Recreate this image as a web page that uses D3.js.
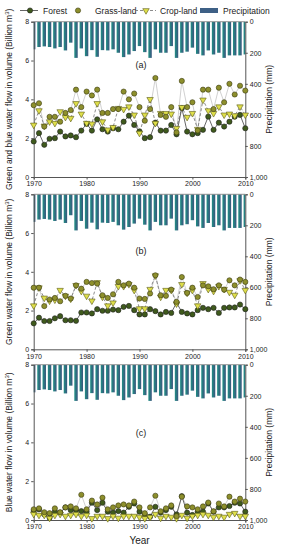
<!DOCTYPE html>
<html>
<head>
<meta charset="utf-8">
<script src="https://cdn.jsdelivr.net/npm/d3@7"></script>
<style>
  body { margin: 0; background: #fff; }
  svg { font-family: "Liberation Sans", Arial, sans-serif; }
  .axis path, .axis line { stroke: #555; }
  .axis text { fill: #222; font-size: 7px; }
</style>
</head>
<body>
<svg id="chart" width="284" height="550"></svg>
<script>
// water flow by land use, three panels, precipitation hanging from the top

var years = [1970, 1971, 1972, 1973, 1974, 1975, 1976, 1977, 1978, 1979,
             1980, 1981, 1982, 1983, 1984, 1985, 1986, 1987, 1988, 1989,
             1990, 1991, 1992, 1993, 1994, 1995, 1996, 1997, 1998, 1999,
             2000, 2001, 2002, 2003, 2004, 2005, 2006, 2007, 2008, 2009, 2010];
var yearTicks = [1970, 1980, 1990, 2000, 2010];
var flowTicks = [0, 2, 4, 6, 8];
var precipTicks = [0, 200, 400, 600, 800, 1000];

var precipitation = [178, 163, 159, 163, 172, 163, 185, 135, 233, 172,
                     222, 183, 226, 183, 185, 178, 200, 228, 211, 189,
                     157, 196, 233, 178, 200, 200, 157, 233, 200, 193,
                     167, 207, 217, 185, 211, 200, 233, 217, 217, 217, 211];

// (a) green + blue
var forestA = [1.83, 2.26, 1.66, 1.97, 2.0, 2.34, 2.09, 2.14, 2.05, 2.39,
               2.74, 2.39, 2.97, 2.46, 2.34, 2.51, 2.46, 2.85, 3.16, 2.68,
               2.35, 2.0, 2.05, 2.8, 2.39, 2.39, 2.68, 2.2, 3.55, 2.34,
               2.2, 2.26, 2.43, 3.11, 2.43, 2.8, 2.6, 2.85, 3.11, 3.2, 2.51];
var grassA = [3.7, 3.8, 2.6, 3.1, 3.1, 2.85, 3.3, 3.45, 4.5, 3.6,
              4.4, 4.2, 4.5, 3.3, 3.3, 3.5, 3.5, 4.4, 4.0, 4.3,
              3.6, 2.9, 3.5, 5.1, 3.2, 3.1, 3.6, 2.3, 4.95, 3.6,
              3.85, 2.4, 4.5, 4.5, 3.5, 4.6, 3.85, 4.8, 4.25, 4.7, 4.45];
var cropA = [2.68, 3.42, 2.63, 2.85, 2.77, 3.37, 3.08, 3.03, 3.79, 3.25,
             2.77, 2.74, 3.79, 2.85, 2.43, 2.56, 3.54, 3.49, 3.62, 3.2,
             2.26, 3.2, 4.0, 2.77, 3.28, 3.28, 3.25, 2.51, 3.59, 3.08,
             3.28, 2.46, 3.97, 3.42, 3.28, 3.62, 3.2, 3.25, 3.16, 3.62, 3.2];

// (b) green
var forestB = [1.34, 1.63, 1.46, 1.46, 1.6, 1.71, 1.5, 1.5, 1.47, 1.9,
               1.9, 1.85, 2.07, 1.99, 1.99, 2.05, 2.02, 2.19, 2.24, 2.02,
               1.8, 1.8, 2.07, 1.97, 1.8, 1.93, 1.88, 2.4, 1.93, 1.85,
               1.8, 2.02, 2.14, 2.07, 2.14, 1.88, 2.14, 2.16, 2.16, 2.31, 2.07];
var grassB = [3.18, 3.18, 2.23, 2.57, 2.65, 2.48, 2.76, 2.62, 3.3, 3.13,
              3.48, 3.42, 3.39, 2.79, 2.65, 2.84, 3.48, 3.3, 3.39, 3.18,
              2.62, 2.6, 2.88, 3.82, 2.79, 2.76, 3.08, 2.45, 3.73, 2.91,
              3.18, 2.7, 3.3, 3.25, 3.1, 3.3, 3.08, 3.56, 3.3, 3.6, 3.48];
var cropB = [2.25, 3.18, 2.65, 2.5, 2.55, 3.05, 2.75, 2.6, 3.3, 3.0,
             2.75, 2.5, 3.45, 2.7, 2.25, 2.4, 3.25, 3.25, 3.35, 3.05,
             2.1, 2.1, 3.1, 3.8, 2.7, 3.05, 3.05, 2.35, 3.35, 2.9,
             3.05, 2.25, 3.4, 3.1, 3.0, 3.25, 3.1, 2.95, 2.8, 3.55, 3.05];

// (c) blue
var forestC = [0.46, 0.55, 0.29, 0.12, 0.43, 0.38, 0.65, 0.51, 0.51, 0.46,
               0.43, 0.89, 0.51, 0.89, 0.43, 0.38, 0.46, 0.38, 0.68, 0.85,
               0.43, 0.26, 0.17, 0.68, 0.38, 0.51, 0.68, 0.29, 1.23, 0.38,
               0.26, 0.43, 0.43, 0.85, 0.43, 0.65, 0.65, 0.72, 0.89, 0.85, 0.43];
var grassC = [0.55, 0.6, 0.4, 0.35, 0.6, 0.4, 0.65, 0.7, 0.6, 1.3,
              0.55, 1.0, 0.8, 1.15, 0.55, 0.65, 0.75, 0.8, 0.75, 0.95,
              0.65, 0.35, 0.65, 1.25, 0.45, 0.6, 0.75, 0.2, 1.2, 0.7,
              0.65, 0.55, 0.7, 0.9, 0.45, 0.85, 0.7, 1.2, 0.95, 1.1, 0.95];
var cropC = [0.3, 0.25, 0.25, 0.1, 0.25, 0.3, 0.2, 0.25, 0.3, 0.2,
             0.25, 0.08, 0.2, 0.2, 0.08, 0.2, 0.1, 0.2, 0.2, 0.2,
             0.15, 0.08, 0.15, 0.3, 0.1, 0.2, 0.15, 0.08, 0.25, 0.1,
             0.2, 0.25, 0.3, 0.25, 0.15, 0.2, 0.15, 0.3, 0.35, 0.2, 0.2];

var svg = d3.select("#chart"),
    left = 33.7,
    right = 245.3;

var x = d3.scaleLinear().domain([1970, 2010]).range([left, right]);

var defs = svg.append("defs");
var grad = defs.append("linearGradient")
    .attr("id", "barGrad")
    .attr("x1", "0").attr("x2", "1").attr("y1", "0").attr("y2", "0");
grad.append("stop").attr("offset", "0%").attr("stop-color", "#1f8f84");
grad.append("stop").attr("offset", "100%").attr("stop-color", "#3b557d");

var forestColor = "#3f5a1c",
    grassColor = "#8d8f2c",
    cropColor = "#dede4a";

function addSup(sel, before, sup, after) {
  sel.append("tspan").text(before);
  sel.append("tspan").attr("baseline-shift", "super").attr("font-size", "6px").text(sup);
  sel.append("tspan").text(after);
}

function drawPanel(top, bottom, forest, grass, crop, tag, tagAt, title) {
  var y = d3.scaleLinear().domain([0, 8]).range([bottom, top]);
  var yp = d3.scaleLinear().domain([0, 1000]).range([top, bottom]);
  var g = svg.append("g");

  var clipId = "clip" + tag;
  defs.append("clipPath").attr("id", clipId)
    .append("rect").attr("x", left).attr("y", top)
    .attr("width", right - left).attr("height", bottom - top);

  // precipitation bars
  g.append("g").attr("clip-path", "url(#" + clipId + ")")
    .selectAll("rect")
    .data(precipitation)
    .enter().append("rect")
      .attr("x", function(d, i) { return x(years[i]) - 1.7; })
      .attr("y", yp(0))
      .attr("width", 3.4)
      .attr("height", function(d) { return yp(d) - yp(0); })
      .attr("fill", "url(#barGrad)");

  // top line
  g.append("line").attr("x1", left).attr("x2", right).attr("y1", top).attr("y2", top)
    .attr("stroke", "#777").attr("stroke-width", 0.8);

  // axes
  g.append("g").attr("class", "axis")
    .attr("transform", "translate(0," + bottom + ")")
    .call(d3.axisBottom(x).tickValues(yearTicks).tickFormat(d3.format("d")).tickSize(2.5).tickPadding(2));
  g.append("g").attr("class", "axis")
    .attr("transform", "translate(" + left + ",0)")
    .call(d3.axisLeft(y).tickValues(flowTicks).tickSize(2.5).tickPadding(2));
  g.append("g").attr("class", "axis")
    .attr("transform", "translate(" + right + ",0)")
    .call(d3.axisRight(yp).tickValues(precipTicks).tickSize(2.5).tickPadding(2));
  g.selectAll(".axis .domain").attr("stroke", "#666");

  var line = d3.line()
    .x(function(d, i) { return x(years[i]); })
    .y(function(d) { return y(d); });

  g.append("path").datum(grass).attr("d", line)
    .attr("fill", "none").attr("stroke", "#c4c4c4").attr("stroke-width", 0.8);
  g.append("path").datum(crop).attr("d", line)
    .attr("fill", "none").attr("stroke", "#6e6e6e").attr("stroke-width", 0.8)
    .attr("stroke-dasharray", "3,2");
  g.append("path").datum(forest).attr("d", line)
    .attr("fill", "none").attr("stroke", "#555").attr("stroke-width", 0.9);

  g.append("g").selectAll("circle")
    .data(forest)
    .enter().append("circle")
      .attr("cx", function(d, i) { return x(years[i]); })
      .attr("cy", y)
      .attr("r", 2.6)
      .attr("fill", forestColor).attr("stroke", "#222").attr("stroke-width", 0.6);

  var tri = d3.symbol().type(d3.symbolTriangle).size(18);
  g.append("g").selectAll("path")
    .data(crop)
    .enter().append("path")
      .attr("d", tri)
      .attr("transform", function(d, i) { return "translate(" + x(years[i]) + "," + y(d) + ") rotate(180)"; })
      .attr("fill", cropColor).attr("stroke", "#5a5a1a").attr("stroke-width", 0.6);

  g.append("g").selectAll("circle")
    .data(grass)
    .enter().append("circle")
      .attr("cx", function(d, i) { return x(years[i]); })
      .attr("cy", y)
      .attr("r", 2.6)
      .attr("fill", grassColor).attr("stroke", "#3a3a10").attr("stroke-width", 0.6);

  g.append("text")
    .attr("x", x(1990.3)).attr("y", y(tagAt))
    .attr("text-anchor", "middle").attr("font-size", "9px").attr("fill", "#222")
    .text("(" + tag + ")");

  var mid = (top + bottom) / 2;
  var lt = g.append("text")
    .attr("transform", "translate(11.5," + mid + ") rotate(-90)")
    .attr("text-anchor", "middle").attr("font-size", "8.5px").attr("fill", "#222");
  addSup(lt, title + " (Billion m", "3", ")");

  g.append("text")
    .attr("transform", "translate(272," + mid + ") rotate(-90)")
    .attr("text-anchor", "middle").attr("font-size", "8.5px").attr("fill", "#222")
    .text("Precipitation (mm)");
}

drawPanel(21.7, 177, forestA, grassA, cropA, "a", 5.62, "Green and blue water flow in volume");
drawPanel(194.3, 349.3, forestB, grassB, cropB, "b", 4.92, "Green water flow in volume");
drawPanel(364.7, 520, forestC, grassC, cropC, "c", 4.33, "Blue water flow in volume");

svg.append("text")
  .attr("x", x(1990)).attr("y", 544)
  .attr("text-anchor", "middle").attr("font-size", "10px").attr("fill", "#222")
  .text("Year");

// legend
var legend = svg.append("g").attr("font-size", "8.5px").attr("fill", "#222");
legend.append("line").attr("x1", 20).attr("x2", 38).attr("y1", 10.5).attr("y2", 10.5)
  .attr("stroke", "#555").attr("stroke-width", 0.9);
legend.append("circle").attr("cx", 30).attr("cy", 10.5).attr("r", 2.6)
  .attr("fill", forestColor).attr("stroke", "#222").attr("stroke-width", 0.6);
legend.append("text").attr("x", 43).attr("y", 13.5).text("Forest");

legend.append("circle").attr("cx", 78).attr("cy", 10.5).attr("r", 2.6)
  .attr("fill", grassColor).attr("stroke", "#3a3a10").attr("stroke-width", 0.6);
legend.append("text").attr("x", 95).attr("y", 13.5).text("Grass-land");

legend.append("line").attr("x1", 135).attr("x2", 156).attr("y1", 10.5).attr("y2", 10.5)
  .attr("stroke", "#6e6e6e").attr("stroke-width", 0.8).attr("stroke-dasharray", "3,2");
legend.append("path").attr("d", d3.symbol().type(d3.symbolTriangle).size(18))
  .attr("transform", "translate(146,10.5) rotate(180)")
  .attr("fill", cropColor).attr("stroke", "#5a5a1a").attr("stroke-width", 0.6);
legend.append("text").attr("x", 160).attr("y", 13.5).text("Crop-land");

legend.append("rect").attr("x", 200).attr("y", 8).attr("width", 18).attr("height", 5)
  .attr("fill", "#3e6086");
legend.append("text").attr("x", 223).attr("y", 13.5).text("Precipitation");
</script>
</body>
</html>
